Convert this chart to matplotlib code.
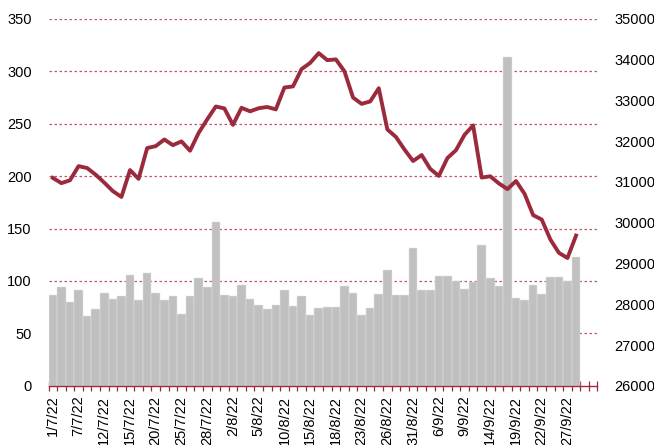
import numpy as np
import matplotlib
matplotlib.use("Agg")
from matplotlib import pyplot as plt

plt.rcParams['font.family'] = ['Liberation Sans', 'DejaVu Sans']

# trading days (two empty slots at the end of the axis)
dates = ["1/7/22", "5/7/22", "6/7/22", "7/7/22", "8/7/22", "11/7/22", "12/7/22", "13/7/22",
         "14/7/22", "15/7/22", "18/7/22", "19/7/22", "20/7/22", "21/7/22", "22/7/22", "25/7/22",
         "26/7/22", "27/7/22", "28/7/22", "29/7/22", "1/8/22", "2/8/22", "3/8/22", "4/8/22",
         "5/8/22", "8/8/22", "9/8/22", "10/8/22", "11/8/22", "12/8/22", "15/8/22", "16/8/22",
         "17/8/22", "18/8/22", "19/8/22", "22/8/22", "23/8/22", "24/8/22", "25/8/22", "26/8/22",
         "29/8/22", "30/8/22", "31/8/22", "1/9/22", "2/9/22", "6/9/22", "7/9/22", "8/9/22",
         "9/9/22", "12/9/22", "13/9/22", "14/9/22", "15/9/22", "16/9/22", "19/9/22", "20/9/22",
         "21/9/22", "22/9/22", "23/9/22", "26/9/22", "27/9/22", "28/9/22", "29/9/22", "30/9/22"]

# bars, left axis
volume = [87, 94, 80, 91, 67, 73, 89, 83, 86, 106, 82, 108, 89, 82, 86, 69,
          86, 103, 94, 156, 87, 86, 96, 83, 77, 73, 77, 91, 76, 86, 68, 74,
          75, 75, 95, 89, 68, 74, 88, 110, 87, 87, 131, 91, 91, 105, 105, 100,
          92, 99, 134, 103, 95, 313, 84, 82, 96, 88, 104, 104, 100, 123]

# line, right axis
index_close = [31097, 30968, 31038, 31385, 31338, 31174, 30981, 30773, 30630, 31288,
               31073, 31827, 31875, 32037, 31899, 31990, 31762, 32198, 32530, 32845,
               32798, 32396, 32813, 32727, 32803, 32833, 32774, 33310, 33337, 33761,
               33912, 34152, 33980, 33999, 33707, 33064, 32910, 32969, 33292, 32283,
               32099, 31791, 31510, 31656, 31318, 31145, 31581, 31775, 32152, 32381,
               31105, 31135, 30962, 30822, 31020, 30706, 30184, 30077, 29590, 29261,
               29135, 29684]

red = '#9C2A3D'
grid_red = '#C45468'

fig = plt.figure(figsize=(6.54, 4.45), dpi=100)
ax = fig.add_axes([0.0742, 0.1326, 0.8394, 0.8258])
ax2 = ax.twinx()

x = np.arange(len(volume))
ax.bar(x, volume, width=1.0, color='#C0C0C0', edgecolor='#E4E4E4', linewidth=0.35, zorder=2)
ax.set_ylim(0, 350)
ax.set_yticks(np.arange(0, 351, 50))
# dotted grid behind the bars, ticks stay on top
for yv in np.arange(50, 351, 50):
    ax.axhline(yv, color=grid_red, linestyle=(0, (2, 2)), linewidth=0.9, zorder=1)
ax.tick_params(axis='y', length=0, pad=12, labelsize=10.5)

n = len(dates)
ax.set_xlim(-0.5, n - 0.5)
ax.set_xticks(np.arange(n + 1) - 0.5)
ax.set_xticklabels([])
ax.tick_params(axis='x', which='major', direction='inout', length=7, color=red, width=0.9)
label_pos = np.arange(0, len(volume), 3)
ax.set_xticks(label_pos, minor=True)
ax.set_xticklabels([dates[i] for i in label_pos], minor=True, rotation=90, fontsize=10.5)
ax.tick_params(axis='x', which='minor', length=0, pad=7)

ax2.plot(x, index_close, color=red, linewidth=2.8, solid_joinstyle='round', zorder=5)
ax2.set_ylim(26000, 35000)
ax2.set_yticks(np.arange(26000, 35001, 1000))
ax2.tick_params(axis='y', length=0, pad=12, labelsize=10.5)

for a in (ax, ax2):
    for side in ('top', 'left', 'right', 'bottom'):
        a.spines[side].set_visible(False)
ax.spines['bottom'].set_visible(True)
ax.spines['bottom'].set_color(red)
ax.spines['bottom'].set_linewidth(1.0)

fig.savefig("out.png", dpi=100)
